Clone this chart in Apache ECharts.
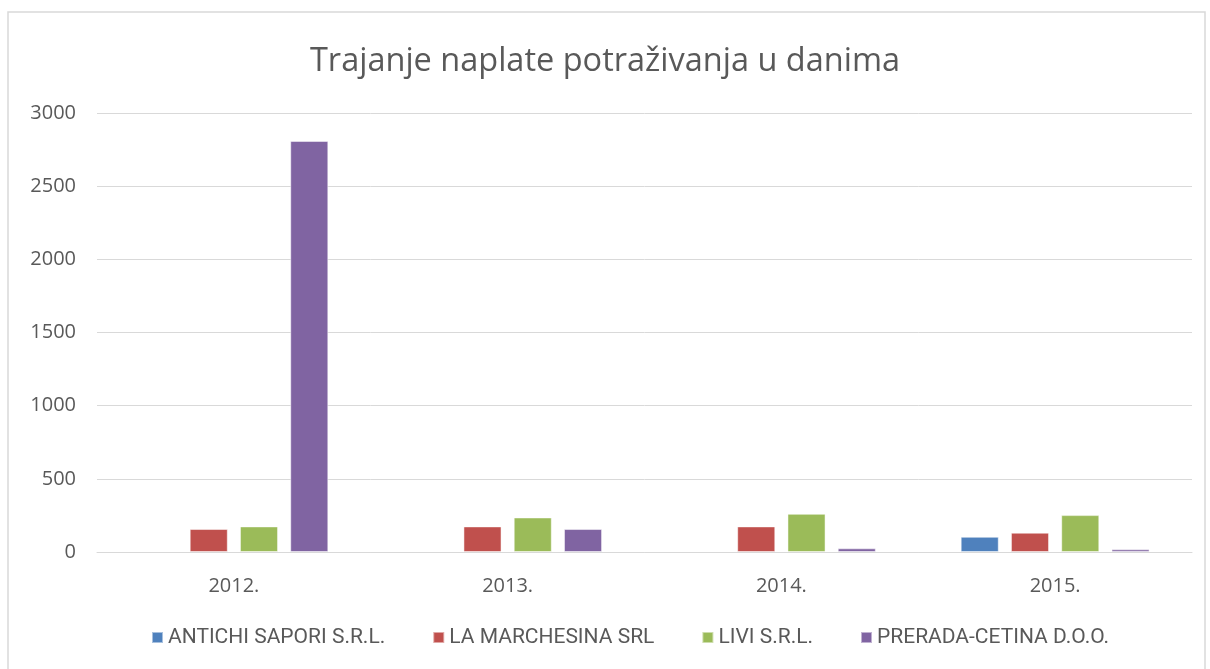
<!DOCTYPE html>
<html>
<head>
<meta charset="utf-8">
<script src="https://cdn.jsdelivr.net/npm/echarts@6/dist/echarts.min.js"></script>
<style>
html, body { margin: 0; padding: 0; background: #fff; }
#chart { width: 1210px; height: 669px; }
</style>
</head>
<body>
<div id="chart"></div>
<script>
var years = ['2012.', '2013.', '2014.', '2015.'];
var seriesNames = ['ANTICHI SAPORI S.R.L.', 'LA MARCHESINA SRL', 'LIVI S.R.L.', 'PRERADA-CETINA D.O.O.'];
var colors = ['#4f81bd', '#c0504d', '#9bbb59', '#8064a2'];
var antichi = [0, 0, 0, 104];
var marchesina = [157, 175, 175, 132];
var livi = [175, 236, 261, 252];
var prerada = [2809, 157, 25, 18];
var allValues = [antichi, marchesina, livi, prerada];

var chart = echarts.init(document.getElementById('chart'));

var series = seriesNames.map(function (name, i) {
    return {
        name: name,
        type: 'bar',
        data: allValues[i].map(function (v) { return v === 0 ? null : v; }),
        barCategoryGap: '31%',
        barGap: '32%',
        itemStyle: {
            color: colors[i],
            borderColor: 'rgba(255,255,255,0.5)',
            borderWidth: 1
        }
    };
});

chart.setOption({
    textStyle: { fontFamily: 'Open Sans' },
    animation: false,
    graphic: [{
        type: 'rect',
        shape: { x: 8, y: 12, width: 1197, height: 660 },
        style: { fill: 'none', stroke: '#d9d9d9', lineWidth: 1.5 }
    }],
    title: {
        text: 'Trajanje naplate potraživanja u danima',
        left: 'center',
        top: 40,
        textStyle: { fontFamily: 'Open Sans', fontSize: 32.5, fontWeight: 'normal', color: '#595959' }
    },
    legend: {
        bottom: 16,
        left: 146,
        itemWidth: 11,
        itemHeight: 11,
        itemGap: 47,
        icon: 'rect',
        data: seriesNames,
        textStyle: { fontFamily: 'Roboto', fontSize: 21, color: '#595959' }
    },
    grid: { left: 97, right: 18, top: 113, bottom: 117 },
    xAxis: {
        type: 'category',
        data: years,
        axisLine: { lineStyle: { color: '#d9d9d9', width: 1 } },
        axisTick: { show: false },
        axisLabel: { color: '#595959', fontSize: 20, margin: 24 }
    },
    yAxis: {
        type: 'value',
        min: 0,
        max: 3000,
        interval: 500,
        axisLine: { show: false },
        axisTick: { show: false },
        splitLine: { lineStyle: { color: '#d9d9d9', width: 1 } },
        axisLabel: {
            color: '#595959', fontSize: 20, margin: 21,
            formatter: function (v) { return String(v); }
        }
    },
    series: series
});
</script>
</body>
</html>
